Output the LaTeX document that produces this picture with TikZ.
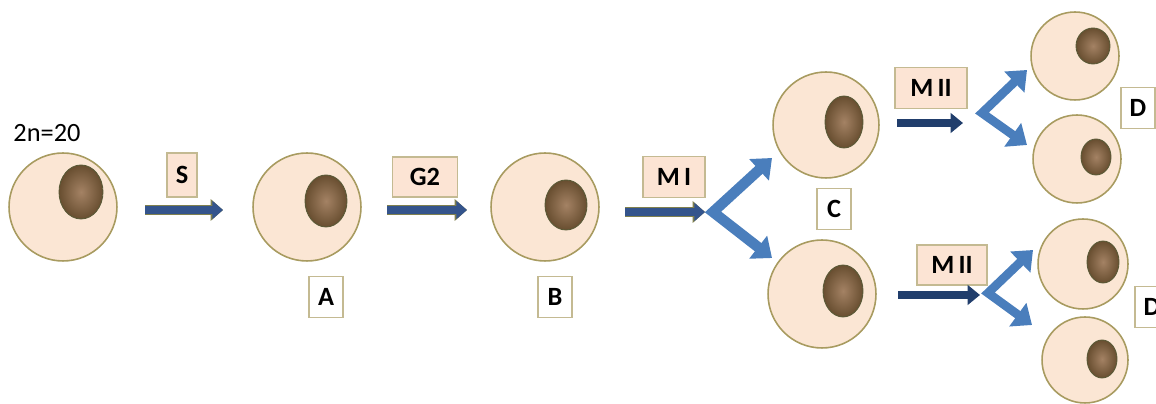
\documentclass[tikz,border=0pt]{standalone}
\usepackage{fontspec}
\setmainfont{Carlito}
\usetikzlibrary{arrows.meta,shapes.geometric}
\definecolor{cellfill}{RGB}{251,230,212}
\definecolor{celledge}{RGB}{168,155,96}
\definecolor{nucdark}{RGB}{104,78,48}
\definecolor{nuclight}{RGB}{164,130,100}
\definecolor{tagfill}{RGB}{252,228,212}
\definecolor{tagedge}{RGB}{196,186,146}
\definecolor{shaftblue}{RGB}{52,84,140}
\definecolor{shaftedge}{RGB}{128,128,78}
\definecolor{navyblue}{RGB}{33,62,108}
\definecolor{forkblue}{RGB}{74,126,188}

\begin{document}
\begin{tikzpicture}[x=0.02cm,y=-0.02cm,
  cell/.style={circle,draw=celledge,fill=cellfill,line width=0.9pt,inner sep=0pt},
  nucleus/.style={ellipse,draw=shaftedge!70!black,line width=0.5pt,inner color=nuclight,outer color=nucdark,inner sep=0pt},
  tag/.style={draw=tagedge,fill=tagfill,line width=0.8pt,inner sep=0pt,font=\fontsize{15}{17}\selectfont\bfseries},
  letter/.style={draw=tagedge,fill=white,line width=0.8pt,inner sep=0pt,minimum width=0.68cm,minimum height=0.82cm,font=\fontsize{15}{17}\selectfont\bfseries},
  phase/.style={draw=shaftblue,line width=4.4pt,-{Triangle[length=6pt,width=10pt]},
    preaction={draw=shaftedge,line width=6pt,-{Triangle[length=7pt,width=12pt]}}},
  phasetwo/.style={draw=navyblue,line width=5pt,-{Triangle[length=7pt,width=11pt]}},
  fork/.style={draw=forkblue,line width=6pt,line join=miter,
    {Triangle[length=10pt,width=16pt]}-{Triangle[length=10pt,width=16pt]}}]
\useasboundingbox (0,0) rectangle (1156,404);

\foreach \nm/\x/\y/\r/\nx/\ny/\rx/\ry in {
  c0/63/207/54/81/192/22/27, cA/307/207/54/326/201/21/26,
  cB/545/207/54/566/205/21/25, cC1/826/125/53/844/122/19/26,
  cC2/822/294/54/843/291/20/26, cD1/1075/56/44/1093/46/17/18,
  cD2/1077/159/44/1096/157/15/18, cD3/1083/264/45/1103/262/16/21,
  cD4/1085/360/43/1102/359/15/19}
{
  \node[cell,minimum size=\r*0.04cm] (\nm) at (\x,\y) {};
  \node[nucleus,minimum width=\rx*0.04cm,minimum height=\ry*0.04cm] (n\nm) at (\nx,\ny) {};
}

\node[font=\fontsize{15}{17}\selectfont] (ploidy) at (47,133) {2n=20};

\node[tag,minimum width=0.6cm,minimum height=0.88cm] (tS) at (182,175) {S};
\node[tag,minimum width=1.3cm,minimum height=0.8cm] (tG) at (425,177) {G2};
\node[tag,minimum width=1.24cm,minimum height=0.82cm] (tM) at (674,177) {M\,I};
\node[tag,minimum width=1.44cm,minimum height=0.82cm] (tMa) at (931,88) {M\,II};
\node[tag,minimum width=1.4cm,minimum height=0.8cm] (tMb) at (952,265) {M\,II};

\node[letter] (lA) at (326,297) {A};
\node[letter] (lB) at (555,297) {B};
\node[letter] (lC) at (834,209) {C};
\node[letter] (lDa) at (1138,108) {D};
\node[letter] (lDb) at (1152,307) {D};

\coordinate (s0) at (145,210);  \coordinate (s1) at (223,210);
\coordinate (g0) at (387,210);  \coordinate (g1) at (467,210);
\coordinate (m0) at (625,212);  \coordinate (m1) at (705,212);
\coordinate (ma0) at (897,123); \coordinate (ma1) at (963,123);
\coordinate (mb0) at (898,295); \coordinate (mb1) at (980,295);
\draw[phase] (s0) -- (s1);
\draw[phase] (g0) -- (g1);
\draw[phase] (m0) -- (m1);
\draw[phasetwo] (ma0) -- (ma1);
\draw[phasetwo] (mb0) -- (mb1);

\coordinate (f) at (713,212);   \coordinate (fu) at (772,158);  \coordinate (fd) at (772,258);
\coordinate (fa) at (982,113);  \coordinate (fau) at (1027,70); \coordinate (fad) at (1027,145);
\coordinate (fb) at (988,293);  \coordinate (fbu) at (1033,250); \coordinate (fbd) at (1032,325);
\draw[fork] (fu) -- (f) -- (fd);
\draw[fork,line width=5pt] (fau) -- (fa) -- (fad);
\draw[fork,line width=5pt] (fbu) -- (fb) -- (fbd);
\end{tikzpicture}
\end{document}
